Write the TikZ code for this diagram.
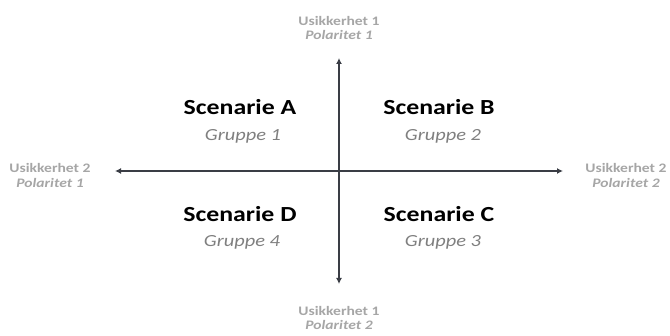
\documentclass[tikz,border=0pt]{standalone}
\usepackage{fontspec}
\setmainfont{Carlito}
\newfontfamily\widefont[FakeStretch=1.2]{Carlito}
\usetikzlibrary{arrows.meta}
\definecolor{axisgray}{HTML}{3A3D45}
\definecolor{endgray}{HTML}{A6A6A6}
\definecolor{groupgray}{HTML}{7F7F7F}
\tikzset{
    scenario/.style={anchor=base, inner sep=0pt, font=\widefont\bfseries\fontsize{21.5}{24}\selectfont, text=black},
    group/.style={anchor=base, inner sep=0pt, font=\widefont\itshape\fontsize{17}{19}\selectfont, text=groupgray},
    axisend/.style={anchor=base, inner sep=0pt, font=\widefont\bfseries\fontsize{13}{14}\selectfont, text=endgray},
    axispol/.style={axisend, font=\widefont\bfseries\itshape\fontsize{13}{14}\selectfont},
    axisline/.style={draw=axisgray, line width=2pt, -{Latex[length=6pt,width=6pt]}}
}
\begin{document}
\begin{tikzpicture}[x=1pt,y=-1pt]
    \useasboundingbox (0,0) rectangle (670,336);
    % axes
    \coordinate (c) at (339,171);
    \coordinate (top) at (339,58);
    \coordinate (bottom) at (339,284);
    \coordinate (left) at (115,171);
    \coordinate (right) at (563,171);
    \draw[axisline] (c) -- (top);
    \draw[axisline] (c) -- (bottom);
    \draw[axisline] (c) -- (left);
    \draw[axisline] (c) -- (right);
    % axis ends
    \node[axisend] (u1top) at (339,26) {Usikkerhet 1};
    \node[axispol] (p1top) at (339,40) {Polaritet 1};
    \node[axisend] (u1bot) at (339,316) {Usikkerhet 1};
    \node[axispol] (p2bot) at (339,330) {Polaritet 2};
    \node[axisend] (u2left) at (50,173) {Usikkerhet 2};
    \node[axispol] (p1left) at (50,188) {Polaritet 1};
    \node[axisend] (u2right) at (626,173) {Usikkerhet 2};
    \node[axispol] (p2right) at (626,188) {Polaritet 2};
    % quadrants
    \node[scenario] (sa) at (240,115) {Scenarie A};
    \node[group] (ga) at (243,141) {Gruppe 1};
    \node[scenario] (sb) at (439,115) {Scenarie B};
    \node[group] (gb) at (443,141) {Gruppe 2};
    \node[scenario] (sd) at (240,222) {Scenarie D};
    \node[group] (gd) at (242,247) {Gruppe 4};
    \node[scenario] (sc) at (439,222) {Scenarie C};
    \node[group] (gc) at (443,247) {Gruppe 3};
\end{tikzpicture}
\end{document}
